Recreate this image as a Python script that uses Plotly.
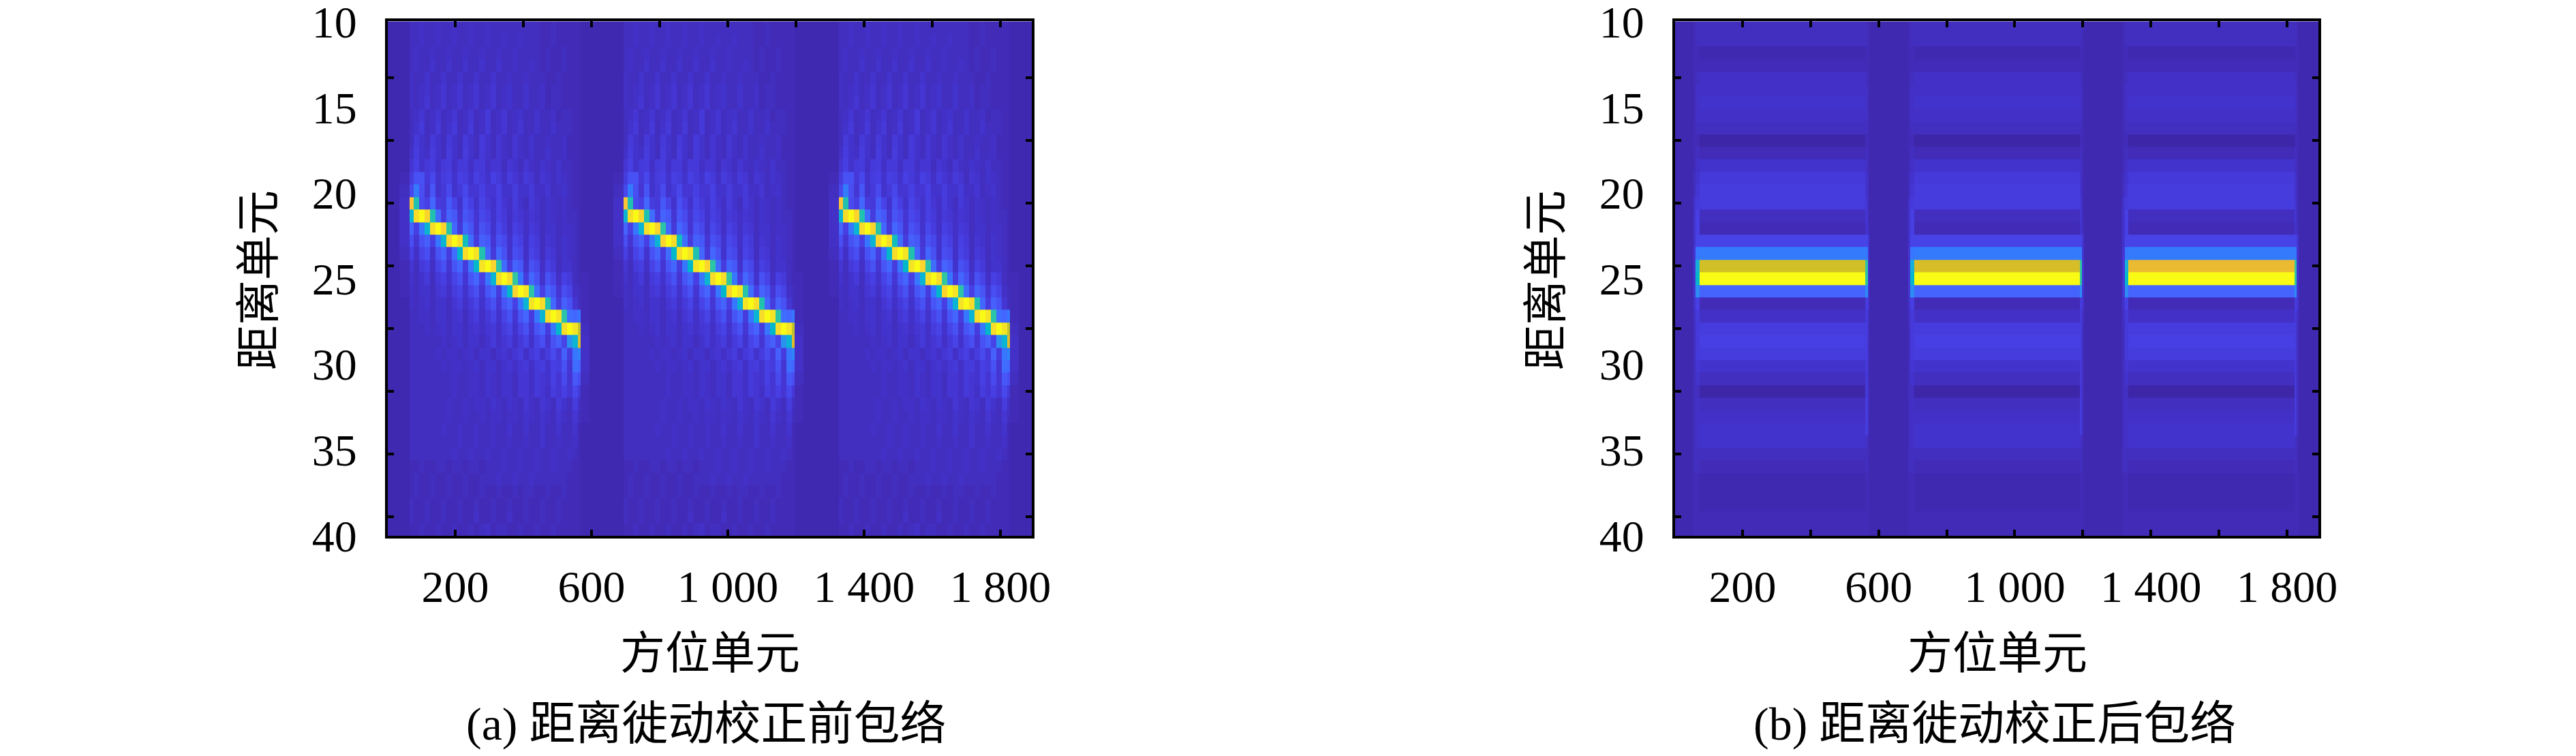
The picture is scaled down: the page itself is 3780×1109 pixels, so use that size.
import plotly.graph_objects as go

W, H = 3780, 1109
PAGE_MARGIN = 8  # the browser's default body margin around the figure
FIG_W, FIG_H = W - 2 * PAGE_MARGIN, H - 2 * PAGE_MARGIN
FONT = "Liberation Serif, Noto Sans CJK SC"

range_bins = list(range(1, 42))
y_tick_marks = [5, 10, 15, 20, 25, 30, 35, 40]
y_tick_labels = [10, 15, 20, 25, 30, 35, 40]
x_tick_labels = ["200", "600", "1 000", "1 400", "1 800"]
x_tick_values = [200, 600, 1000, 1400, 1800]
x_tick_minor = [400, 800, 1200, 1600]
x_title = "方位单元"
y_title = "距离单元"
caption_a = "(a) 距离徙动校正前包络"
caption_b = "(b) 距离徙动校正后包络"

parula = [
    (.2422,.1504,.6603),(.2504,.1650,.7076),(.2578,.1818,.7511),(.2647,.1978,.7952),(.2706,.2147,.8364),
    (.2751,.2342,.8710),(.2783,.2559,.8991),(.2803,.2782,.9221),(.2813,.3006,.9414),(.2810,.3228,.9579),
    (.2795,.3447,.9717),(.2760,.3667,.9829),(.2699,.3892,.9906),(.2602,.4123,.9952),(.2440,.4358,.9988),
    (.2206,.4603,.9973),(.1963,.4847,.9892),(.1834,.5074,.9798),(.1786,.5289,.9682),(.1764,.5499,.9520),
    (.1687,.5703,.9359),(.1540,.5902,.9218),(.1460,.6091,.9079),(.1380,.6276,.8973),(.1248,.6459,.8883),
    (.1113,.6635,.8763),(.0952,.6798,.8598),(.0689,.6948,.8394),(.0297,.7082,.8163),(.0036,.7203,.7917),
    (.0067,.7312,.7660),(.0433,.7411,.7394),(.0964,.7500,.7120),(.1408,.7584,.6842),(.1717,.7670,.6554),
    (.1938,.7758,.6251),(.2161,.7843,.5923),(.2470,.7918,.5567),(.2906,.7973,.5188),(.3406,.8008,.4789),
    (.3909,.8029,.4354),(.4456,.8024,.3909),(.5044,.7993,.3480),(.5616,.7942,.3045),(.6174,.7876,.2612),
    (.6720,.7793,.2227),(.7242,.7698,.1910),(.7738,.7598,.1646),(.8203,.7498,.1535),(.8634,.7406,.1596),
    (.9035,.7330,.1774),(.9393,.7288,.2100),(.9728,.7298,.2394),(.9956,.7434,.2371),(.9970,.7659,.2199),
    (.9952,.7893,.2028),(.9892,.8136,.1885),(.9786,.8386,.1766),(.9676,.8639,.1643),(.9610,.8890,.1537),
    (.9597,.9135,.1423),(.9628,.9373,.1265),(.9691,.9606,.1064),(.9769,.9839,.0805),
]

# Panel (a): one burst, rows 1..41, 32 azimuth columns (amplitude in percent)
burst_a = [
    [3,3,4,3,3,4,3,3,4,3,3,4,3,3,4,3,3,3,3,3,3,3,3,3,2,2,3,2,2,2,2,2],
    [3,3,4,3,3,4,3,3,4,3,3,4,3,3,4,3,3,4,3,3,4,3,3,3,2,2,3,2,2,2,2,2],
    [3,4,3,3,4,3,3,4,3,3,4,3,3,4,3,3,4,3,3,4,3,3,3,3,2,3,2,2,3,2,2,2],
    [3,4,3,3,5,3,3,5,3,3,5,3,3,5,3,3,5,3,3,4,3,3,4,3,2,3,2,2,3,2,2,2],
    [4,3,3,5,3,3,5,3,3,5,3,3,5,3,3,5,3,3,4,3,3,4,3,3,3,2,2,3,2,2,2,2],
    [4,3,4,5,3,4,6,3,4,6,3,4,6,3,4,6,3,4,5,3,3,5,3,3,4,2,3,3,2,2,2,2],
    [4,3,4,6,3,4,6,3,4,6,3,4,6,3,4,6,3,4,5,3,3,5,3,3,4,2,3,3,2,2,2,2],
    [3,4,6,3,4,6,3,4,6,3,4,6,3,4,7,3,4,6,3,4,5,3,3,5,3,3,4,2,3,3,2,2],
    [3,5,7,3,4,7,3,5,7,3,4,7,3,4,7,3,4,6,3,4,6,3,3,5,3,3,5,3,3,3,2,2],
    [3,7,5,3,7,5,3,7,5,3,7,5,3,7,5,3,6,4,3,6,4,3,5,3,3,4,3,3,4,2,2,2],
    [4,8,5,4,8,5,3,8,5,3,8,5,3,7,5,3,6,4,3,6,4,3,5,3,3,5,3,3,4,2,2,2],
    [6,9,5,7,8,4,7,8,4,7,7,4,7,7,4,6,6,3,6,5,3,6,4,3,5,4,3,5,3,3,2,2],
    [8,14,14,7,11,5,8,9,5,9,8,5,9,7,5,9,7,4,8,6,4,7,6,3,6,5,3,5,4,3,2,2],
    [11,25,13,6,15,5,7,12,5,7,11,6,6,9,6,6,9,5,5,8,5,5,7,4,4,6,3,4,5,3,2,2],
    [86,52,12,9,20,8,7,16,10,5,13,9,5,10,7,5,9,6,4,8,5,3,7,5,3,5,4,3,4,3,2,2],
    [44,92,100,90,52,22,8,19,16,6,15,12,6,11,9,5,9,7,4,7,6,4,6,5,3,5,4,3,4,3,3,2],
    [19,9,24,44,92,100,90,54,20,7,20,15,6,14,11,5,11,8,4,9,7,4,7,6,3,5,5,3,4,4,3,2],
    [13,6,14,18,9,24,44,90,100,92,50,22,8,18,16,6,14,11,5,11,9,4,9,7,3,6,5,3,5,4,3,2],
    [9,4,10,13,5,14,19,8,22,46,92,100,94,52,20,7,20,14,5,13,11,4,10,8,3,7,6,3,5,4,3,2],
    [6,3,7,9,4,10,14,6,15,20,8,24,46,94,100,90,54,22,8,19,16,5,14,11,4,9,7,3,5,5,3,2],
    [5,3,5,7,3,7,9,5,10,14,6,15,20,9,24,44,92,100,92,56,24,8,20,14,5,14,10,4,9,7,3,2],
    [4,3,5,5,3,6,7,4,8,10,5,10,14,6,15,20,8,24,46,90,100,94,54,22,9,19,15,6,13,10,4,3],
    [4,3,4,5,3,5,5,3,6,8,4,7,10,5,10,14,6,15,19,9,24,44,94,100,92,52,20,8,18,14,6,3],
    [3,3,4,4,3,5,5,3,5,6,3,6,8,4,7,10,5,10,14,6,15,20,8,24,44,92,100,94,54,22,20,24],
    [3,3,3,4,3,4,5,3,5,5,3,5,6,4,6,7,4,8,10,5,10,14,6,15,19,8,24,46,92,100,94,74],
    [3,3,3,3,3,3,4,3,4,5,3,5,5,3,5,7,4,6,8,4,7,10,5,10,13,6,14,18,10,32,44,78],
    [3,3,3,3,3,4,3,4,4,3,4,5,3,5,5,3,5,6,4,6,8,4,7,9,5,8,12,7,18,8,24,28],
    [3,3,3,3,3,3,4,3,4,4,3,4,5,3,5,5,3,5,6,4,6,7,4,7,8,5,9,8,14,6,22,20],
    [3,3,3,3,3,3,3,3,4,3,3,4,4,3,5,4,3,5,5,3,6,6,4,7,6,5,9,6,12,6,16,13],
    [3,3,3,3,3,3,3,3,4,3,3,4,4,3,5,4,3,5,5,3,6,6,4,7,6,4,8,6,9,6,11,7],
    [3,3,3,3,3,3,3,4,3,3,4,3,4,4,3,5,4,3,5,4,3,6,4,3,6,5,3,7,5,3,8,4],
    [3,3,3,3,3,3,3,4,3,3,4,3,3,4,3,4,4,3,4,4,3,5,4,3,5,4,3,6,4,3,6,3],
    [3,3,3,3,3,3,4,3,3,4,3,3,4,3,3,4,3,3,5,3,3,5,3,3,5,3,3,5,3,3,5,2],
    [3,3,3,3,3,3,3,3,3,4,3,3,4,3,3,4,3,3,4,3,3,4,3,3,5,3,3,4,3,3,4,2],
    [3,3,3,3,3,3,3,3,4,3,3,4,3,3,4,3,3,4,3,3,4,3,3,4,3,3,4,3,3,4,3,2],
    [2,2,3,2,2,3,3,2,3,3,2,3,3,2,3,3,3,4,3,3,4,3,3,4,3,3,4,3,3,3,2,2],
    [2,3,2,2,3,2,2,3,2,2,3,2,2,3,3,3,4,3,3,4,3,3,4,3,3,3,3,3,3,2,2,2],
    [2,3,2,2,3,2,2,3,2,2,3,2,2,3,2,2,3,2,2,3,2,3,3,2,2,3,2,2,3,2,2,2],
    [3,2,2,3,2,2,3,2,2,3,2,2,3,2,2,3,2,2,3,2,2,3,2,2,3,2,2,3,2,2,2,2],
    [3,2,2,3,2,2,3,2,2,3,2,2,4,2,2,3,2,2,4,2,2,3,2,2,3,2,2,3,2,2,2,2],
    [2,2,3,2,2,3,2,2,3,2,2,3,2,3,4,2,3,3,2,2,3,2,2,3,2,2,3,2,2,2,2,2],
]
a_pre = [1,1,1,1,1,1,1,1,1,1,1,1,2,3,4,4,4,4,3,2,2,2,1,1,1,1,1,1,1,1,1,1,1,1,1,1,1,1,1,1,1]
a_post = [1,1,1,1,1,1,1,1,1,1,1,1,1,1,1,1,1,1,1,1,2,2,2,2,3,4,4,4,3,2,2,2,1,1,1,1,1,1,1,1,1]
a_gap = 1
a_starts = [65, 693, 1325]
a_col_edges = [0, 12, 28, 44, 60, 77, 93, 109, 125, 141, 157, 173, 189, 205, 222, 238, 254, 270, 286, 302,
               318, 334, 350, 367, 383, 399, 415, 431, 447, 463, 479, 495, 503]

# Panel (b): one value per range bin for the body of each burst, and its edge columns
b_main = [3,3,1,2,4,4,5,4,3,0,2,5,7,8,8,3,2,10,25,76,100,19,2,4,8,9,8,5,3,0,3,4,5,5,3,2,1,1,1,2,2]
b_gold = [76, 77, 80]
b_out_l = [2,2,2,2,2,2,2,2,2,2,2,2,3,3,5,5,5,5,6,6,6,6,5,4,3,3,3,3,3,3,3,3,3,3,3,3,2,2,2,2,2]
b_in_l = [3,3,2,2,3,4,4,4,3,2,3,4,5,6,7,9,9,10,24,42,45,30,9,7,7,7,7,6,5,3,4,4,4,4,3,3,2,2,2,2,2]
b_in_r = [3,3,2,2,3,4,4,4,3,2,3,4,5,5,6,6,5,10,25,55,55,30,8,7,8,8,8,7,7,7,8,8,8,4,3,3,2,2,2,2,2]
b_out_r = [2,2,2,2,2,2,2,2,2,2,2,2,2,2,2,2,3,6,6,6,6,6,6,4,3,3,3,3,3,3,3,3,3,2,2,2,2,2,2,2,2]
b_starts = [56, 686, 1316]
b_col_edges = [0, 7, 18, 505, 512, 517]

x_range = [2, 1892]


def panel_a():
    edges = [x_range[0]]
    for s in a_starts:
        edges += [s - 30] + [s + e for e in a_col_edges] + [s + a_col_edges[-1] + 25]
    edges.append(x_range[1])
    z = []
    for i in range(41):
        row = [a_gap]
        for j in range(3):
            row += [a_pre[i]] + burst_a[i] + [a_post[i], a_gap]
        z.append(row)
    return edges, z


def panel_b():
    edges = [x_range[0]]
    for s in b_starts:
        edges += [s + e for e in b_col_edges]
    edges.append(x_range[1])
    z = []
    for i in range(41):
        row = [a_gap]
        for j in range(3):
            body = b_gold[j] if i == 19 else b_main[i]
            row += [b_out_l[i], b_in_l[i], body, b_in_r[i], b_out_r[i], a_gap]
        z.append(row)
    return edges, z


def fx(px):
    return (px - PAGE_MARGIN) / FIG_W


def fy(px):
    return 1 - (px - PAGE_MARGIN) / FIG_H


scale = [[i / 63, "rgb(%d,%d,%d)" % tuple(round(c * 255) for c in p)] for i, p in enumerate(parula)]
fig = go.Figure()
for key, (ex, z) in (("", panel_a()), ("2", panel_b())):
    fig.add_trace(go.Heatmap(x=ex, y=range_bins, z=z, zmin=0, zmax=100, colorscale=scale, showscale=False,
                             xaxis="x" + key, yaxis="y" + key, hoverinfo="skip"))
fig.add_trace(go.Scatter(x=[None], y=[None], xaxis="x3", yaxis="y", showlegend=False, hoverinfo="skip"))

TOP, BOTTOM = 31.3, 786
tick_font = dict(family=FONT, size=66, color="black")
title_font = dict(family=FONT, size=66, color="black")
caption_font = dict(family=FONT, size=68, color="black")
label_pos = [0.53 + (v - 10) * 40.94 / 30 for v in y_tick_labels]


def x_axis(left, right, minor):
    ax = dict(domain=[fx(left), fx(right)], range=x_range, tickvals=x_tick_values, ticktext=x_tick_labels,
              ticks="inside", ticklen=9, tickwidth=4, tickcolor="black", showline=True, linecolor="black",
              linewidth=4, mirror="ticks" if minor else True, tickfont=tick_font, showgrid=False, zeroline=False,
              ticklabelstandoff=14, tickangle=0, automargin=False, ticklabeloverflow="allow")
    if minor:
        ax["minor"] = dict(tickvals=x_tick_minor, ticks="inside", ticklen=9, tickwidth=4, tickcolor="black",
                           showgrid=False)
    return ax


def y_axis(anchor):
    return dict(domain=[fy(BOTTOM), fy(TOP)], range=[41.5, 0.5], anchor=anchor, tickvals=label_pos,
                ticktext=[str(v) for v in y_tick_labels], ticks="", showline=True, linecolor="black", linewidth=4,
                mirror="ticks", tickfont=tick_font, showgrid=False, zeroline=False, ticklabelstandoff=28,
                automargin=False, ticklabeloverflow="allow",
                minor=dict(tickvals=y_tick_marks, ticks="inside", ticklen=9, tickwidth=4, tickcolor="black",
                           showgrid=False))


def note(text, x, y, font, angle=0):
    return dict(text=text, x=fx(x), y=fy(y), xref="paper", yref="paper", showarrow=False, font=font,
                xanchor="center", yanchor="middle", textangle=angle)


fig.update_layout(
    width=FIG_W, height=FIG_H, margin=dict(l=0, r=0, t=0, b=0, autoexpand=False), paper_bgcolor="white",
    plot_bgcolor="white", showlegend=False, font=dict(family=FONT),
    xaxis=dict(x_axis(569, 1514, False), anchor="y"),
    yaxis=y_axis("x"),
    xaxis2=dict(x_axis(2458, 3402, True), anchor="y2"),
    yaxis2=y_axis("x2"),
    xaxis3=dict(domain=[fx(569), fx(1514)], range=x_range, overlaying="x", side="top", anchor="y",
                tickvals=x_tick_values + x_tick_minor, ticks="inside", ticklen=9, tickwidth=4, tickcolor="black",
                showticklabels=False, showgrid=False, zeroline=False),
    annotations=[
        note(x_title, 1042, 958, title_font), note(x_title, 2931, 958, title_font),
        note(y_title, 379, 411, title_font, -90), note(y_title, 2268, 411, title_font, -90),
        note(caption_a, 1036, 1062, caption_font), note(caption_b, 2927, 1062, caption_font),
    ],
)
fig.write_html("out.html")
